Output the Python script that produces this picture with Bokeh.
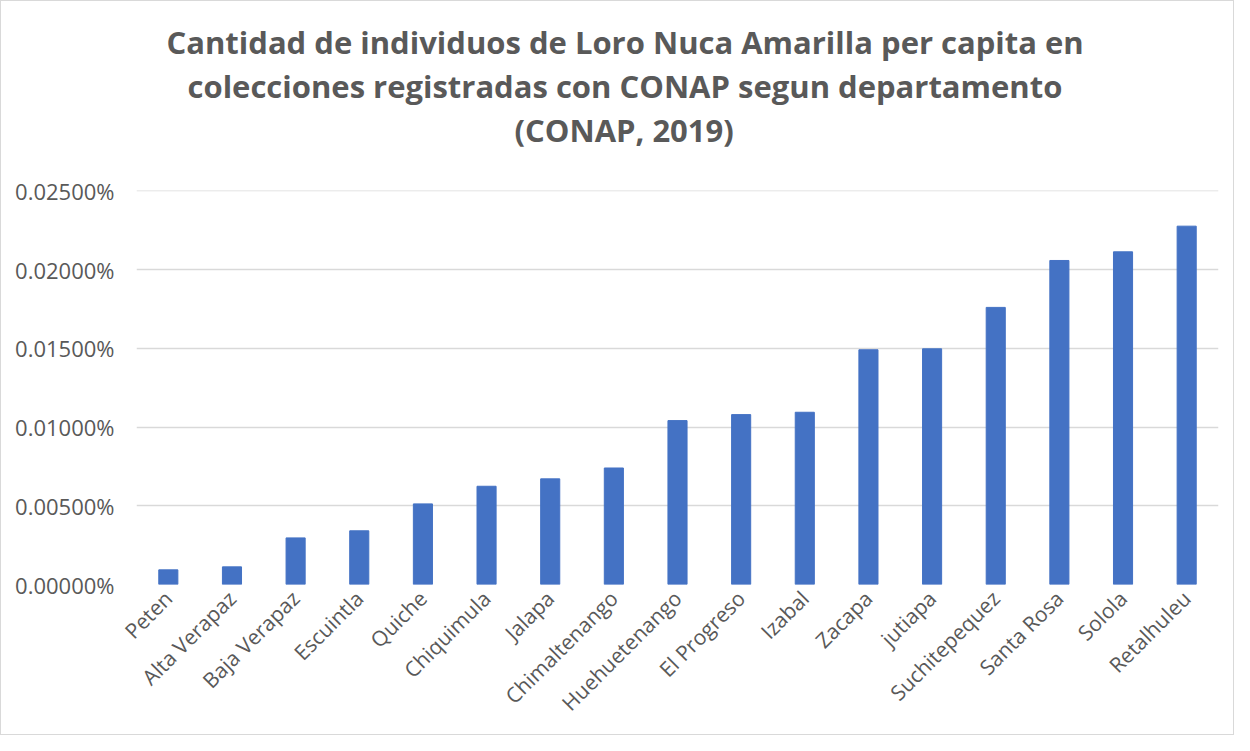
import math
from bokeh.plotting import figure
from bokeh.models import NumeralTickFormatter, Title, FactorRange, Range1d, FixedTicker
from bokeh.embed import file_html
from bokeh.resources import INLINE

departments = ["Peten", "Alta Verapaz", "Baja Verapaz", "Escuintla", "Quiche",
               "Chiquimula", "Jalapa", "Chimaltenango", "Huehuetenango", "El Progreso",
               "Izabal", "Zacapa", "jutiapa", "Suchitepequez", "Santa Rosa", "Solola",
               "Retalhuleu"]
# values in percent
values_pct = [0.00093, 0.00112, 0.00296, 0.00341, 0.00512, 0.00624, 0.00671, 0.00740,
              0.01041, 0.01079, 0.01094, 0.01491, 0.01497, 0.01760, 0.02058, 0.02113,
              0.02276]
y_ticks_pct = [0.0, 0.005, 0.010, 0.015, 0.020, 0.025]
title_lines = ["Cantidad de individuos de Loro Nuca Amarilla per capita en",
               "colecciones registradas con CONAP segun departamento",
               "(CONAP, 2019)"]

values = [v / 100 for v in values_pct]
y_ticks = [t / 100 for t in y_ticks_pct]

TEXT = "#595959"
FONT = "Open Sans"

p = figure(width=1234, height=735, output_backend="svg", toolbar_location=None,
           x_range=FactorRange(*departments), y_range=Range1d(0, y_ticks[-1] * 1.001),
           min_border_left=135, min_border_right=17, min_border_top=189,
           min_border_bottom=152)
p.vbar(x=departments, top=values, width=0.3, color="#4472C4")

p.outline_line_color = None
p.background_fill_color = "white"
p.border_fill_color = "white"
p.styles = {"border": "1px solid #d9d9d9"}

p.xgrid.grid_line_color = None
p.ygrid.grid_line_color = "#d9d9d9"
p.ygrid.grid_line_width = 1.5

p.yaxis.ticker = FixedTicker(ticks=y_ticks)
p.yaxis.formatter = NumeralTickFormatter(format="0.00000%")
for ax in (p.xaxis[0], p.yaxis[0]):
    ax.axis_line_color = None
    ax.major_tick_line_color = None
    ax.minor_tick_line_color = None
    ax.major_tick_out = 0
    ax.major_tick_in = 0
    ax.major_label_text_color = TEXT
    ax.major_label_text_font = FONT
p.yaxis.major_label_text_font_size = "22px"
p.yaxis.major_label_standoff = 22
p.xaxis.major_label_text_font_size = "21px"
p.xaxis.major_label_orientation = math.pi / 4
p.xaxis.major_label_standoff = 10

# title lines (added bottom-up), left aligned with offsets so the block is centred;
# the last line carries an empty second line that keeps a gap above the plot
offsets = [378, 51, 30]
for i, (line, off) in enumerate(zip(reversed(title_lines), offsets)):
    txt = line + "\n" if i == 0 else line
    p.add_layout(Title(text=txt, align="left", offset=off, text_font=FONT,
                       text_font_size="31px", text_font_style="bold",
                       text_line_height=0.95, text_color=TEXT, standoff=0), "above")

open("out.html", "w").write(file_html(p, INLINE))
